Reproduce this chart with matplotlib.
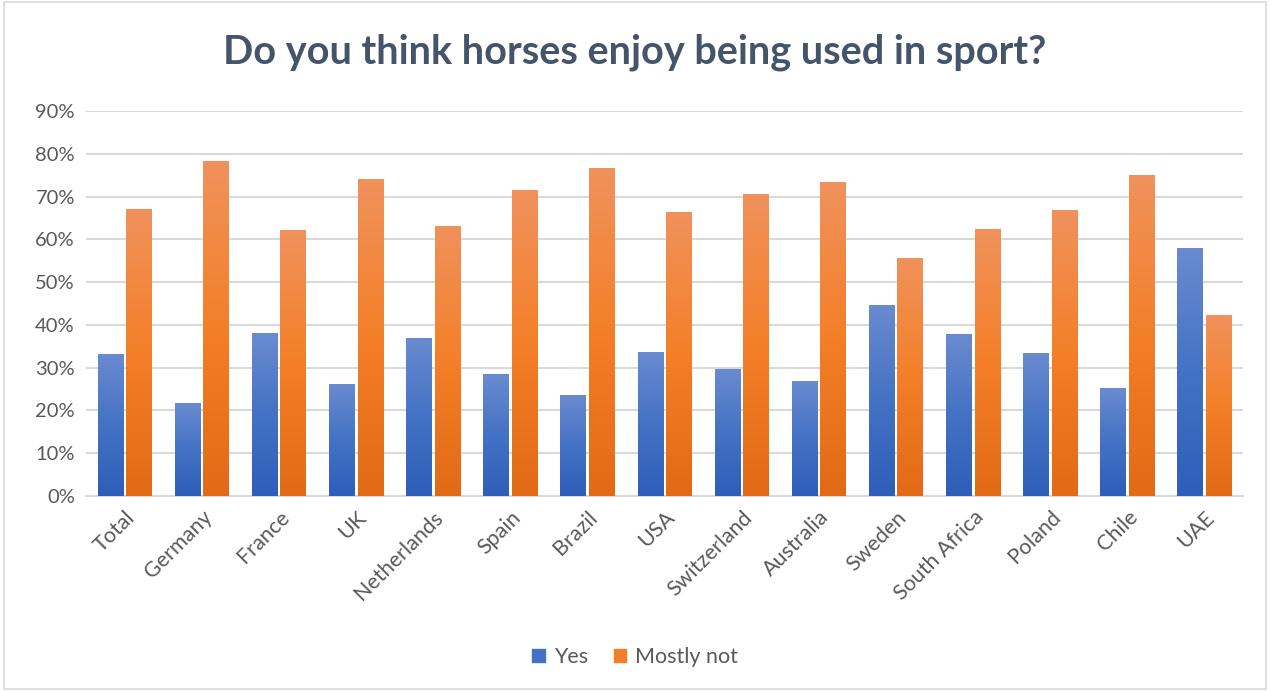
import matplotlib
matplotlib.use('Agg')
import matplotlib.pyplot as plt
import numpy as np
from matplotlib.colors import LinearSegmentedColormap
from matplotlib.patches import Rectangle, Patch

# data
countries = ['Total', 'Germany', 'France', 'UK', 'Netherlands', 'Spain', 'Brazil',
             'USA', 'Switzerland', 'Australia', 'Sweden', 'South Africa', 'Poland',
             'Chile', 'UAE']
yes = [33.2, 21.8, 38.1, 26.2, 37.0, 28.5, 23.6, 33.7, 29.7, 26.9, 44.7, 37.9, 33.5, 25.3, 58.0]
mostly_not = [67.1, 78.4, 62.2, 74.2, 63.2, 71.6, 76.7, 66.4, 70.6, 73.4, 55.7, 62.5, 66.9, 75.1, 42.3]

plt.rcParams['font.family'] = ['Lato', 'DejaVu Sans']
text_col = '#595959'

fig = plt.figure(figsize=(12.7, 6.91), dpi=100)
ax = fig.add_axes([86/1270, 1 - 496/691, 1157/1270, 385/691])

x = np.arange(len(countries))
w = 0.33
b1 = ax.bar(x - 0.185, yes, w, color='none', linewidth=0, zorder=3)
b2 = ax.bar(x + 0.185, mostly_not, w, color='none', linewidth=0, zorder=3)

# vertical gradient: light top, darker bottom
blue_cm = LinearSegmentedColormap.from_list('b', ['#2E5EB9', '#4472C4', '#6A8BD0'])
orange_cm = LinearSegmentedColormap.from_list('o', ['#E26A16', '#F47F28', '#F0925C'])
grad = np.linspace(0, 1, 256).reshape(-1, 1)
for bars, cm in [(b1, blue_cm), (b2, orange_cm)]:
    for p in bars:
        x0, h, bw = p.get_x(), p.get_height(), p.get_width()
        im = ax.imshow(grad, cmap=cm, origin='lower', aspect='auto',
                       extent=[x0, x0 + bw, 0, h], zorder=3, interpolation='bilinear')
        clip = Rectangle((x0, 0), bw, h, transform=ax.transData)
        im.set_clip_path(clip)

ax.set_xlim(-0.5, len(countries) - 0.5)
ax.set_ylim(0, 90)
ax.set_yticks(np.arange(0, 91, 10))
ax.set_yticklabels([f'{v}%' for v in range(0, 91, 10)], fontsize=14.5, color=text_col)
ax.set_xticks(x)
ax.set_xticklabels(countries, rotation=45, ha='right', rotation_mode='anchor',
                   fontsize=15.5, color=text_col)
ax.tick_params(length=0, pad=8)
ax.grid(axis='y', color='#D9D9D9', linewidth=1.5, zorder=0)
for s in ['top', 'right', 'left']:
    ax.spines[s].set_visible(False)
ax.spines['bottom'].set_color('#D9D9D9')
ax.spines['bottom'].set_linewidth(1.5)

fig.text(0.5, 1 - 52/691, 'Do you think horses enjoy being used in sport?',
         ha='center', va='center', fontsize=28.5, fontweight='bold', color='#44546A')

handles = [Patch(color='#4472C4', label='Yes'), Patch(color='#F47F28', label='Mostly not')]
fig.legend(handles=handles, loc='center', bbox_to_anchor=(0.5, 1 - 657/691), ncol=2,
           frameon=False, fontsize=15.5, labelcolor=text_col, handlelength=0.6,
           handleheight=0.6, handletextpad=0.4, columnspacing=1.2)

# thin border around the chart area
fig.add_artist(Rectangle((0.003, 0.003), 0.994, 0.994, transform=fig.transFigure,
                         fill=False, edgecolor='#D9D9D9', linewidth=1.2))

fig.savefig('out.png', dpi=100)
